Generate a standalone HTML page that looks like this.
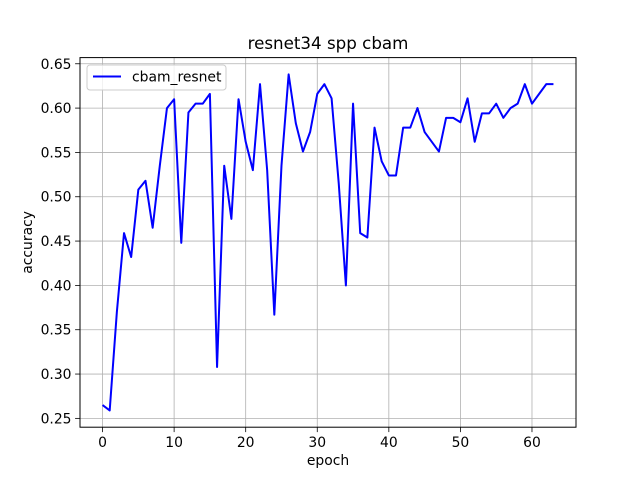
<!DOCTYPE html>
<html><head><meta charset="utf-8"><style>
body{margin:0;background:#fff}
svg{display:block;font-family:"DejaVu Sans","Liberation Sans",sans-serif}
</style></head><body>
<svg id="chart" width="640" height="480"></svg>
<script>
const epochs = [];
const accuracy = [0.265,0.259,0.37,0.459,0.432,0.508,0.518,0.465,0.535,0.600,0.610,0.448,0.595,0.605,0.605,0.616,0.308,0.535,0.475,0.610,0.562,0.530,0.627,0.530,0.367,0.535,0.638,0.583,0.551,0.573,0.616,0.627,0.611,0.515,0.400,0.605,0.459,0.454,0.578,0.540,0.524,0.524,0.578,0.578,0.600,0.573,0.562,0.551,0.589,0.589,0.584,0.611,0.562,0.594,0.594,0.605,0.589,0.600,0.605,0.627,0.605,0.616,0.627,0.627];
for (let i = 0; i < accuracy.length; i++) epochs.push(i);
const xTicks = [0,10,20,30,40,50,60];
const yTicks = [0.25,0.30,0.35,0.40,0.45,0.50,0.55,0.60,0.65];

const svg = document.getElementById('chart');
const NS = 'http://www.w3.org/2000/svg';
const L = 80, T = 57.6, W = 496, H = 369.6;
const xmin0 = Math.min(...epochs), xmax0 = Math.max(...epochs);
const ymin0 = Math.min(...accuracy), ymax0 = Math.max(...accuracy);
const xm = (xmax0 - xmin0) * 0.05, ym = (ymax0 - ymin0) * 0.05;
const xmin = xmin0 - xm, xmax = xmax0 + xm, ymin = ymin0 - ym, ymax = ymax0 + ym;
const sx = v => L + (v - xmin) / (xmax - xmin) * W;
const sy = v => T + H - (v - ymin) / (ymax - ymin) * H;
function mk(tag, attrs, parent) {
  const e = document.createElementNS(NS, tag);
  for (const k in attrs) e.setAttribute(k, attrs[k]);
  (parent || svg).appendChild(e);
  return e;
}
const title = mk('text', {x: L + W / 2, y: 49, 'text-anchor': 'middle', 'font-size': 16.7, fill: '#000'});
title.textContent = 'resnet34 spp cbam';


xTicks.forEach(t => {
  const x = sx(t);
  const g = mk('line', {x1: x, x2: x, y1: T, y2: T + H, stroke: '#b0b0b0', 'stroke-width': 0.8});
  
  
  mk('line', {x1: x, x2: x, y1: T + H, y2: T + H + 4.9, stroke: '#000', 'stroke-width': 0.8});
  const tx = mk('text', {x: x, y: T + H + 20, 'text-anchor': 'middle', 'font-size': 13.9, fill: '#000'});
  tx.textContent = t;
  
  
});
yTicks.forEach(t => {
  const y = sy(t);
  const g = mk('line', {x1: L, x2: L + W, y1: y, y2: y, stroke: '#b0b0b0', 'stroke-width': 0.8});
  
  
  mk('line', {x1: L - 4.9, x2: L, y1: y, y2: y, stroke: '#000', 'stroke-width': 0.8});
  const tx = mk('text', {x: L - 8.5, y: y + 5, 'text-anchor': 'end', 'font-size': 13.9, fill: '#000'});
  tx.textContent = t.toFixed(2);
  
  
});
const pts = epochs.map((e, i) => sx(e).toFixed(2) + ',' + sy(accuracy[i]).toFixed(2)).join(' ');
const line = mk('polyline', {points: pts, fill: 'none', stroke: '#0000ff', 'stroke-width': 2, 'stroke-linejoin': 'round'});


const frame = mk('rect', {x: L, y: T, width: W, height: H, fill: 'none', stroke: '#000', 'stroke-width': 1});


const xl = mk('text', {x: L + W / 2, y: 465, 'text-anchor': 'middle', 'font-size': 13.9, fill: '#000'});
xl.textContent = 'epoch';


const yl = mk('text', {x: 0, y: 0, 'text-anchor': 'middle', 'font-size': 13.9, fill: '#000', transform: 'translate(32,' + (T + H / 2) + ') rotate(-90)'});
yl.textContent = 'accuracy';


const lg = mk('g', {});


mk('rect', {x: 87, y: 65, width: 139, height: 25, rx: 3, fill: '#fff', 'fill-opacity': 0.8, stroke: '#cccccc', 'stroke-width': 1}, lg);
mk('line', {x1: 93, x2: 121, y1: 76.5, y2: 76.5, stroke: '#0000ff', 'stroke-width': 2}, lg);
const lt = mk('text', {x: 132, y: 81.5, 'font-size': 13.9, fill: '#000'}, lg);
lt.textContent = 'cbam_resnet';


</script>
</body></html>
